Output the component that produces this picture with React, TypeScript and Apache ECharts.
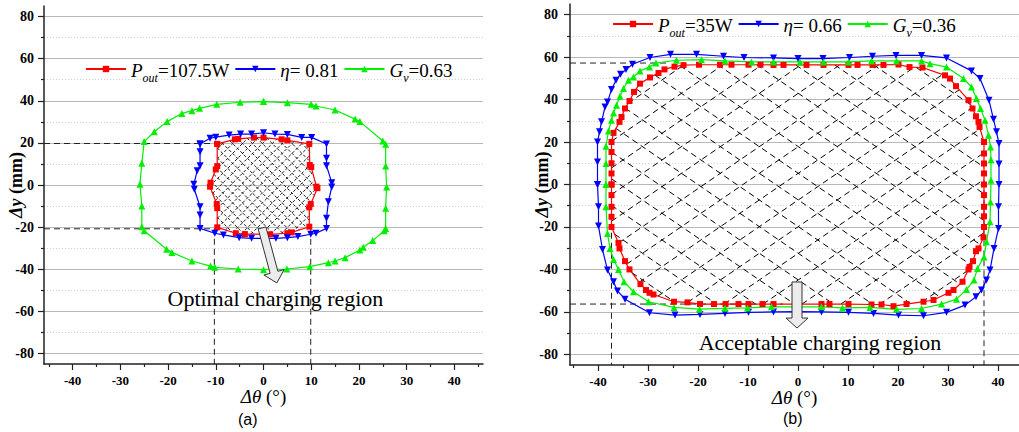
import React, { useEffect, useRef } from 'react';
import * as echarts from 'echarts';

// ---------- tick values ----------
const xTicks = [-40, -30, -20, -10, 0, 10, 20, 30, 40];
const xMinorTicks = [-45, -35, -25, -15, -5, 5, 15, 25, 35, 45];
const yTicks = [-80, -60, -40, -20, 0, 20, 40, 60, 80];
const yMinorTicks = [-70, -50, -30, -10, 10, 30, 50, 70];

// ---------- chart (a) data: [Δθ (°), Δy (mm)] ----------
const redA = [
  [-9.7, 19.5], [-6, 21.7], [-5.3, 21.9], [-2, 22.5], [0, 22.5], [3.8, 21.7], [5, 21.2], [9.6, 19.5],
  [9.7, 9.5], [10, 8.5], [11.1, -0.8], [11.3, -1.5], [9.9, -9], [9.6, -10.6], [9.6, -19.8],
  [5.9, -22.5], [5, -22.9], [1.4, -23.4], [-3.9, -23.3], [-5.8, -22.9], [-9.7, -20.1],
  [-9.7, -11], [-9.8, -9], [-11.2, -0.8], [-11.1, 1.1], [-10, 7.4], [-9.7, 9], [-9.7, 19.5],
];
const blueA = [
  [-13.3, 19.5], [-11.2, 22.2], [-10, 22.7], [-7.2, 23.7], [-4.8, 24.2], [-2.5, 24.2], [0, 24.8],
  [2.4, 24.2], [5, 24], [8, 22.6], [10.1, 22.6], [13.2, 19.5], [13.2, 12.7], [13.2, 9.2], [14.3, 1.1],
  [14.3, -1], [13.6, -7.9], [13.2, -15.8], [13.2, -20.6], [11, -22.9], [9.9, -23.4], [7.2, -24.5],
  [5, -25], [2.6, -25.3], [0, -25.3], [-2.5, -25.3], [-5.1, -25], [-8.4, -23.7], [-10.2, -22.9],
  [-13.3, -20.6], [-13.3, -14.2], [-13.3, -10.3], [-14.5, -2], [-14.6, 0.3], [-13.9, 6.8],
  [-13.3, 9.2], [-13.3, 15.8], [-13.3, 19.5],
];
const greenA = [
  [0, 39.6], [5, 39.1], [10, 38.3], [11, 37.5], [15, 35.6], [19.2, 31.3], [20.2, 30.1], [25, 20.9],
  [25.6, 19.3], [25.6, 9], [25.8, -1], [25.6, -11], [25.6, -20.6], [25.3, -21.7], [22.9, -26.4],
  [20.9, -29.6], [20.2, -30.9], [17.1, -34.5], [15, -36.1], [13.6, -36.9], [9.7, -38.8], [4.9, -39.9],
  [0, -40.2], [-5.3, -39.9], [-10.2, -39.1], [-11.1, -38.5], [-15, -36.1], [-19.2, -32], [-20.3, -30.5],
  [-25, -21.7], [-25.5, -19.8], [-25.5, -10], [-25.9, 0.3], [-25.5, 10.3], [-25, 20.6], [-22.9, 25.3],
  [-20.2, 30.1], [-17.1, 34], [-15, 35.3], [-13.4, 36.4], [-9.8, 38.3], [-4.9, 39.3], [0, 39.6],
];

// ---------- chart (b) data ----------
const redB = [
  [-37.3, 0], [-37.3, 5.2], [-37.3, 10], [-37.3, 15.3], [-37.3, 20], [-36.9, 24.3], [-35.7, 29.5],
  [-35.3, 31.8], [-34.6, 35.8], [-33.7, 39.3], [-32.8, 43.6], [-31.6, 47.5], [-29.6, 50.4],
  [-27.9, 52.5], [-26.7, 54.2], [-24.7, 55.5], [-22.9, 56.2], [-19.8, 56.4], [-15.6, 56.4],
  [-13.3, 56.4], [-9.9, 56.4], [-7.5, 56.4], [-4.9, 56.3], [-2.9, 56.3], [1.7, 56.3], [5.1, 56.3],
  [10.1, 56.3], [11.9, 56.3], [14.9, 56.3], [17.1, 56.3], [20.1, 56.5], [22.3, 55.3], [24.9, 55.1],
  [29.4, 51.4], [30.4, 49.9], [31.6, 46.3], [34.1, 39.7], [34.9, 35.8], [35.6, 32.1], [36.1, 29.5],
  [36.3, 27.1], [37.2, 20], [37.2, 14.6], [37.2, 9.9], [37.2, 5.2], [37.2, 0], [37.2, -5],
  [37.2, -10.5], [37.2, -15], [37.2, -20], [37.1, -24.9], [36.1, -30.1], [35.6, -31.4], [35, -36.1],
  [34.3, -38.8], [34.1, -40], [32.9, -45.8], [31.1, -49.7], [30.1, -51], [27.1, -54.4], [25.1, -55.2],
  [21.7, -56.3], [19.1, -57.3], [16.7, -56.5], [14.7, -56.5], [10.1, -56.3], [6.3, -56.3], [4.7, -56.3],
  [0, -56.3], [-4.9, -56.3], [-7.1, -56.3], [-9.9, -56.3], [-11.9, -56.3], [-14.5, -56.3],
  [-16.8, -56.3], [-19.6, -56.3], [-22.1, -55.5], [-24.8, -55.2], [-28.9, -51.8], [-29.7, -51],
  [-30.4, -49.7], [-31.5, -46.9], [-33.7, -40], [-34.6, -36.1], [-35.7, -30.1], [-35.9, -27.5],
  [-37.3, -20], [-37.3, -15.2], [-37.3, -10.5], [-37.3, -5], [-37.3, 0],
];
const blueB = [
  [-40.1, 0], [-40.1, 10.6], [-40.1, 20], [-39.7, 24.8], [-39.3, 29.5], [-38.6, 36.5], [-38.1, 38.9],
  [-37.3, 44.7], [-36.4, 49.1], [-35.5, 51.9], [-34.4, 54.1], [-33.1, 56.6], [-29.6, 59.8],
  [-25.5, 61.3], [-20.3, 61.3], [-14.9, 60.4], [-10.8, 59.8], [-4.9, 59.6], [0, 59.3], [5, 59.3],
  [10.3, 59.8], [14.9, 60.4], [19.6, 60.8], [24.7, 60.8], [29.7, 59.6], [34.7, 53.5], [36.4, 49.9],
  [38.2, 39.7], [39.1, 30.7], [39.7, 24.8], [40.2, 19.3], [40.2, 9.6], [40.2, 0], [40.1, -10.5],
  [40.1, -20.7], [39.2, -30.1], [38.4, -40.3], [37.7, -45], [36.7, -49.7], [35.6, -52.9],
  [33.4, -56.8], [29.7, -60.2], [25.1, -61.8], [20.1, -61.5], [15.1, -60.7], [10.1, -60.2],
  [4.7, -60], [0, -59.9], [-4.9, -60], [-9.9, -60.2], [-14.6, -60.7], [-19.6, -61.2], [-24.6, -61.5],
  [-29.7, -60.4], [-34.6, -54], [-36.1, -50.1], [-36.9, -45.8], [-38.1, -40.3], [-39.1, -30.6],
  [-39.9, -19.6], [-39.9, -10.5], [-40.1, 0],
];
const greenB = [
  [-38.4, 0], [-38.4, 9.9], [-38.4, 18], [-37.9, 25.2], [-37.3, 30.3], [-36.9, 33.7], [-36.3, 37.3],
  [-35.6, 41.6], [-34.9, 45.2], [-33.9, 49.1], [-32.9, 50.6], [-31.6, 53.5], [-29.7, 55.3],
  [-28.4, 57.2], [-24.3, 58.5], [-19.3, 58.8], [-14.6, 58.2], [-9.3, 57.7], [-4.9, 57.7], [0.4, 57.7],
  [5.1, 57.7], [10.1, 57.7], [14.7, 58.2], [19.7, 58.2], [24.7, 58.2], [26.4, 56.9], [29.7, 55.3],
  [33.1, 49.9], [34.7, 45.9], [35.7, 40.5], [36.5, 35.8], [37.4, 30.3], [38.1, 23.2], [38.5, 17.7],
  [38.6, 11.7], [38.6, 2], [38.5, -8.2], [38.4, -17.6], [37.7, -27], [37.2, -34.1], [35.9, -39.5],
  [35.2, -45], [33.7, -49.4], [31.7, -54], [28.7, -56.3], [24.7, -58.4], [19.7, -58.8], [14.4, -57.9],
  [8.9, -58.1], [4.7, -57.6], [0, -57.6], [-5.3, -57.6], [-10.1, -58.1], [-14.6, -58.3],
  [-19.7, -58.7], [-24.8, -57.9], [-29.9, -55.2], [-32.9, -50.5], [-34.8, -45.8], [-35.9, -40],
  [-36.9, -35.3], [-37.6, -30.1], [-38.1, -23.1], [-38.4, -10.5], [-38.4, 0],
];

// ---------- annotations (data coords) ----------
const refLinesA = [
  [[-46, 19.7], [-10, 19.7]],
  [[-46, -20.8], [-10, -20.8]],
  [[-10.3, -20.8], [-10.3, -85]],
  [[9.9, -20.8], [9.9, -85]],
];
const refLinesB = [
  [[-45.6, 57.2], [-26, 57.2]],
  [[-45.6, -56.3], [-3, -56.3]],
  [[-37.3, -18], [-37.3, -85]],
  [[37.2, 2], [37.2, -85]],
];
const arrowA = [[-0.3, -20.4], [2.8, -46.5]];
const arrowB = [[-0.2, -45.9], [-0.2, -67.6]];
const labelA = { text: 'Optimal charging region', at: [2.5, -53.7] };
const labelB = { text: 'Acceptable charging region', at: [4.4, -74.6] };

const legendText: Record<string, string> = {
  Pa: '{i|P}{s|out}{n|=107.5W}',
  Ea: '{i|η}{n|= 0.81}',
  Ga: '{i|G}{s|v}{n|=0.63}',
  Pb: '{i|P}{s|out}{n|=35W}',
  Eb: '{i|η}{n|= 0.66}',
  Gb: '{i|G}{s|v}{n|=0.36}',
};

const SERIF = '"Liberation Serif", "Times New Roman", serif';
const RED = '#ff0000';
const BLUE = '#0000ff';
const GREEN = '#00f000';

function hatchLines(poly: number[][], angleDeg: number, spacing: number) {
  const a = (angleDeg * Math.PI) / 180;
  const d = [Math.cos(a), Math.sin(a)];
  const n = [-d[1], d[0]];
  const proj = poly.map((p) => p[0] * n[0] + p[1] * n[1]);
  const cmin = Math.min(...proj);
  const cmax = Math.max(...proj);
  const segs: number[][][] = [];
  for (let c = Math.ceil(cmin / spacing) * spacing; c <= cmax; c += spacing) {
    const pts: number[][] = [];
    for (let i = 0; i < poly.length; i++) {
      const j = (i + 1) % poly.length;
      const dp = proj[i] - c;
      const dq = proj[j] - c;
      if ((dp < 0 && dq >= 0) || (dp >= 0 && dq < 0)) {
        const t = dp / (dp - dq);
        pts.push([poly[i][0] + t * (poly[j][0] - poly[i][0]), poly[i][1] + t * (poly[j][1] - poly[i][1])]);
      }
    }
    pts.sort((u, v) => u[0] * d[0] + u[1] * d[1] - (v[0] * d[0] + v[1] * d[1]));
    for (let k = 0; k + 1 < pts.length; k += 2) segs.push([pts[k], pts[k + 1]]);
  }
  return segs;
}

function arrowPts(t: number[], h: number[], shaftW: number, headW: number, headL: number) {
  const dx = h[0] - t[0];
  const dy = h[1] - t[1];
  const L = Math.hypot(dx, dy);
  const ux = dx / L, uy = dy / L;
  const px = -uy, py = ux;
  const b = [h[0] - ux * headL, h[1] - uy * headL];
  return [
    [t[0] + (px * shaftW) / 2, t[1] + (py * shaftW) / 2],
    [b[0] + (px * shaftW) / 2, b[1] + (py * shaftW) / 2],
    [b[0] + (px * headW) / 2, b[1] + (py * headW) / 2],
    h,
    [b[0] - (px * headW) / 2, b[1] - (py * headW) / 2],
    [b[0] - (px * shaftW) / 2, b[1] - (py * shaftW) / 2],
    [t[0] - (px * shaftW) / 2, t[1] - (py * shaftW) / 2],
  ];
}

function makeAxes(grid: number, xMin: number, xMax: number, labelMarginY: number) {
  const xa = [
    {
      type: 'value', gridIndex: grid, min: xMin, max: xMax, position: 'bottom',
      name: '{i|Δθ}{n| (°)}', nameLocation: 'middle', nameGap: 23, nameMoveOverlap: false,
      nameTextStyle: {
        fontFamily: SERIF,
        rich: {
          i: { fontFamily: SERIF, fontStyle: 'italic', fontSize: 19, color: '#000' },
          n: { fontFamily: SERIF, fontSize: 19, color: '#000' },
        },
      },
      axisLine: { show: true, onZero: false, lineStyle: { color: '#222', width: 1.5 } },
      axisTick: { show: true, customValues: xTicks, length: 6, lineStyle: { color: '#222', width: 1.2 } },
      axisLabel: { customValues: xTicks, margin: 10, fontFamily: SERIF, fontWeight: 'bold', fontSize: 13, color: '#000' },
      splitLine: { show: false },
    },
    {
      type: 'value', gridIndex: grid, min: xMin, max: xMax, position: 'bottom',
      axisLine: { show: false, onZero: false },
      axisTick: { show: true, customValues: xMinorTicks, length: 3, lineStyle: { color: '#222', width: 1.2 } },
      axisLabel: { show: false },
      splitLine: { show: false },
    },
  ];
  const ya = [
    {
      type: 'value', gridIndex: grid, min: -85, max: 85, position: 'left',
      name: '{i|Δy}{n| (mm)}', nameLocation: 'middle', nameGap: 19, nameRotate: 90, nameMoveOverlap: false,
      nameTextStyle: {
        fontFamily: SERIF,
        rich: {
          i: { fontFamily: SERIF, fontStyle: 'italic', fontWeight: 'bold', fontSize: 18, color: '#000' },
          n: { fontFamily: SERIF, fontWeight: 'bold', fontSize: 18, color: '#000' },
        },
      },
      axisLine: { show: true, onZero: false, lineStyle: { color: '#222', width: 1.5 } },
      axisTick: { show: true, customValues: yTicks, length: 6, lineStyle: { color: '#222', width: 1.2 } },
      axisLabel: { customValues: yTicks, margin: labelMarginY, fontFamily: SERIF, fontWeight: 'bold', fontSize: 14, color: '#000' },
      splitLine: { show: true, lineStyle: { color: '#b8b8b8', width: 1 } },
    },
    {
      type: 'value', gridIndex: grid, min: -85, max: 85, position: 'left',
      axisLine: { show: false, onZero: false },
      axisTick: { show: true, customValues: yMinorTicks, length: 3, lineStyle: { color: '#222', width: 1.2 } },
      axisLabel: { show: false },
      splitLine: { show: true, lineStyle: { color: '#cfcfcf', width: 1, type: [1, 2] } },
    },
  ];
  return { xa, ya };
}

function curve(name: string, data: number[][], color: string, symbol: string, rot: number, axis: number, size: number) {
  return {
    type: 'line', name, data, xAxisIndex: axis, yAxisIndex: axis,
    symbol, symbolSize: size, symbolRotate: rot, showSymbol: true, showAllSymbol: true,
    itemStyle: { color }, lineStyle: { color, width: 1.2 }, z: 3, clip: false,
  };
}

function hatchSeries(poly: number[][], axis: number, angles: number[], spacing: number, dash: number[], width: number) {
  return {
    type: 'custom', xAxisIndex: axis, yAxisIndex: axis, data: [[0, 0]], silent: true, z: 1, clip: false,
    renderItem: (_p: any, api: any) => {
      const px = poly.map((p) => api.coord(p));
      const children: any[] = [];
      for (const ang of angles) {
        for (const s of hatchLines(px, ang, spacing)) {
          children.push({
            type: 'line',
            shape: { x1: s[0][0], y1: s[0][1], x2: s[1][0], y2: s[1][1] },
            style: { stroke: '#000', lineWidth: width, lineDash: dash },
          });
        }
      }
      return { type: 'group', children };
    },
  };
}

function refLineSeries(lines: number[][][], axis: number) {
  return {
    type: 'custom', xAxisIndex: axis, yAxisIndex: axis, data: [[0, 0]], silent: true, z: 2, clip: false,
    renderItem: (_p: any, api: any) => ({
      type: 'group',
      children: lines.map((l) => {
        const a = api.coord(l[0]);
        const b = api.coord(l[1]);
        return {
          type: 'line', shape: { x1: a[0], y1: a[1], x2: b[0], y2: b[1] },
          style: { stroke: '#222', lineWidth: 1, lineDash: [6, 4] },
        };
      }),
    }),
  };
}

function arrowSeries(arrow: number[][], label: { text: string; at: number[] }, axis: number, shaftW: number, headW: number, headL: number) {
  return {
    type: 'custom', xAxisIndex: axis, yAxisIndex: axis, data: [[0, 0]], silent: true, z: 10, clip: false,
    renderItem: (_p: any, api: any) => {
      const t = api.coord(arrow[0]);
      const h = api.coord(arrow[1]);
      const lp = api.coord(label.at);
      return {
        type: 'group',
        children: [
          {
            type: 'polygon', shape: { points: arrowPts(t, h, shaftW, headW, headL) },
            style: { fill: '#ececec', stroke: '#333', lineWidth: 1 },
          },
          {
            type: 'text', x: lp[0], y: lp[1],
            style: { text: label.text, fontFamily: SERIF, fontSize: 22, fill: '#000', align: 'center', verticalAlign: 'middle' },
          },
        ],
      };
    },
  };
}

const legendRich = {
  i: { fontFamily: SERIF, fontStyle: 'italic', fontSize: 19, color: '#000', lineHeight: 22, verticalAlign: 'bottom' },
  s: { fontFamily: SERIF, fontStyle: 'italic', fontSize: 12, color: '#000', lineHeight: 14, verticalAlign: 'bottom', padding: [0, 0, -4, 0] },
  n: { fontFamily: SERIF, fontSize: 19, color: '#000', lineHeight: 22, verticalAlign: 'bottom' },
};

export default function App() {
  const ref = useRef<HTMLDivElement>(null);
  useEffect(() => {
    if (!ref.current) return;
    const chart = echarts.init(ref.current, undefined, { renderer: 'svg' });
    const A = makeAxes(0, -46, 46, 10);
    const B = makeAxes(1, -45.6, 44.2, 12);
    const legendBase = {
      itemWidth: 40, itemHeight: 8, itemGap: 5, padding: 0, selectedMode: false,
      formatter: (n: string) => legendText[n],
      textStyle: { fontFamily: SERIF, rich: legendRich },
    };
    chart.setOption({
      animation: false,
      textStyle: { fontFamily: SERIF },
      grid: [
        { left: 44, top: 6, width: 439, height: 358 },
        { left: 570, top: 4, width: 449, height: 361 },
      ],
      xAxis: [...A.xa, ...B.xa],
      yAxis: [...A.ya, ...B.ya],
      legend: [
        { ...legendBase, data: ['Pa', 'Ea', 'Ga'], left: 85, top: 61 },
        { ...legendBase, data: ['Pb', 'Eb', 'Gb'], left: 612, top: 16 },
      ],
      graphic: [
        { type: 'text', left: 238, top: 411, style: { text: '(a)', fontFamily: '"Liberation Sans", Arial, sans-serif', fontSize: 16, fill: '#000' } },
        { type: 'text', left: 783, top: 410, style: { text: '(b)', fontFamily: '"Liberation Sans", Arial, sans-serif', fontSize: 16, fill: '#000' } },
      ],
      series: [
        hatchSeries(redA, 0, [45, -45], 7, [3, 2], 0.9),
        refLineSeries(refLinesA, 0),
        curve('Pa', redA, RED, 'rect', 0, 0, 6),
        curve('Ea', blueA, BLUE, 'triangle', 180, 0, 7),
        curve('Ga', greenA, GREEN, 'triangle', 0, 0, 7),
        arrowSeries(arrowA, labelA, 0, 8, 21, 11),
        hatchSeries(redB, 2, [34.4, -34.4], 22, [6, 4], 1),
        refLineSeries(refLinesB, 2),
        curve('Pb', redB, RED, 'rect', 0, 2, 6),
        curve('Eb', blueB, BLUE, 'triangle', 180, 2, 7),
        curve('Gb', greenB, GREEN, 'triangle', 0, 2, 7),
        arrowSeries(arrowB, labelB, 2, 10, 22, 10),
      ],
    });
    return () => chart.dispose();
  }, []);
  return <div ref={ref} style={{ position: 'fixed', left: 0, top: 0, width: 1019, height: 432, background: '#fff' }} />;
}
